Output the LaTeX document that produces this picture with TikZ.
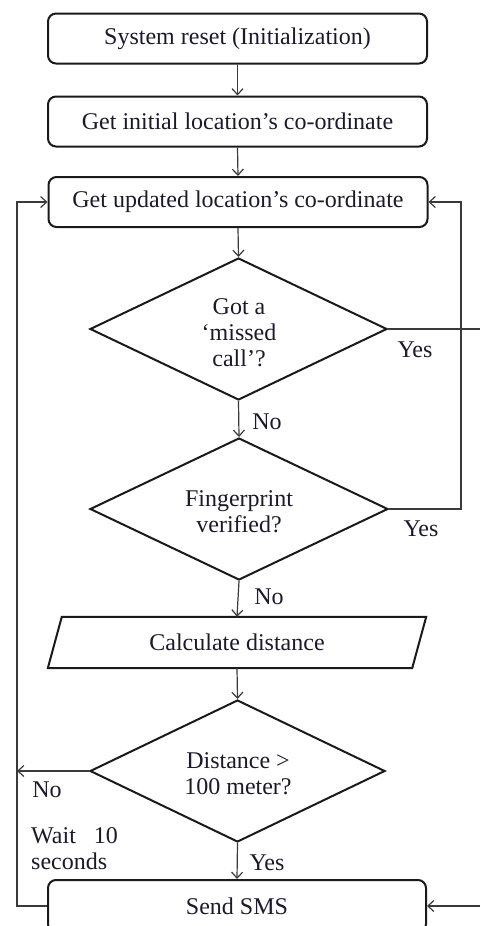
\documentclass[tikz,border=0pt]{standalone}
\usepackage{fontspec}
\setmainfont{Liberation Serif}
\usetikzlibrary{shapes.geometric,arrows.meta}
\definecolor{boxc}{HTML}{1A1A1A}
\definecolor{linec}{HTML}{3A3A3A}
\definecolor{txtc}{HTML}{1C1A2A}
\begin{document}
\begin{tikzpicture}[x=1pt,y=-1pt,
  txt/.style={font=\fontsize{24}{26}\selectfont, text=txtc},
  box/.style={txt, draw=boxc, line width=2pt, rounded corners=8pt, minimum width=379pt, minimum height=50pt, inner sep=0pt},
  dec/.style={diamond, draw=boxc, line width=2pt, aspect=2.1, inner sep=0pt, minimum height=142pt},
  dtext/.style={txt, inner sep=0pt, align=center},
  plain/.style={txt, inner sep=0pt, minimum width=378pt, minimum height=51pt},
  conn/.style={draw=linec, line width=1.2pt, -{Straight Barb[length=6pt,width=11pt]}},
  wire/.style={draw=linec, line width=1.2pt},
  lbl/.style={txt, inner sep=0pt, align=left}]
\useasboundingbox (0,0) rectangle (480,926);
\clip (0,0) rectangle (480,926);
\fill[white] (0,0) rectangle (480,926);

\node[box] (b1) at (237.5,38.5) {System reset (Initialization)};
\node[box] (b2) at (237.5,121.5) {Get initial location's co-ordinate};
\node[box] (b3) at (238,202) {Get updated location's co-ordinate};
\node[dec, minimum width=297pt] (d1) at (238.5,329) {};
\node[dtext] (t1) at (239,333) {Got a\\‘missed\\call’?};
\node[dec, minimum width=298pt] (d2) at (239,509) {};
\node[dtext] (t2) at (239,512) {Fingerprint\\verified?};
\node[plain] (p) at (237,642.5) {Calculate distance};
\draw[draw=boxc, line width=2pt, line join=miter]
  (p.south west) -- ([xshift=-14pt]p.south east) -- (p.north east) -- ([xshift=14pt]p.north west) -- cycle;
\node[dec, minimum width=295pt] (d3) at (237.5,771) {};
\node[dtext] (t3) at (238,774) {Distance >\\100 meter?};
\node[box, minimum width=378pt, minimum height=52pt] (b4) at (237,906) {Send SMS};

\coordinate (E1) at (480,329);
\coordinate (E2) at (480,906);
\coordinate (R1) at (461,509);
\coordinate (R2) at (461,202);
\coordinate (L1) at (17,906);
\coordinate (L2) at (17,202);
\coordinate (N3) at (17,771);

\draw[conn] (b1.south) -- (b2.north);
\draw[conn] (b2.south) -- (b3.north);
\draw[conn] (b3.south) -- (d1.north);
\draw[conn] (d1.south) -- (d2.north);
\draw[conn] (d2.south) -- (p.north);
\draw[conn] (p.south) -- (d3.north);
\draw[conn] (d3.south) -- (b4.north);
\draw[wire] (d1.east) -- (E1);
\draw[conn] (d2.east) -- (R1) -- (R2) -- (b3.east);
\draw[conn] (d3.west) -- (N3);
\draw[conn] (b4.west) -- (L1) -- (L2) -- (b3.west);
\draw[conn] (E2) -- (b4.east);

\node[lbl] (y1) at (415,350) {Yes};
\node[lbl] (n1) at (267,422) {No};
\node[lbl] (y2) at (421,529) {Yes};
\node[lbl] (n2) at (269,597) {No};
\node[lbl] (n3) at (47,790) {No};
\node[lbl, anchor=west] (w3) at (31,849) {Wait\ \ \ 10\\seconds};
\node[lbl] (y3) at (267,863) {Yes};
\end{tikzpicture}
\end{document}
